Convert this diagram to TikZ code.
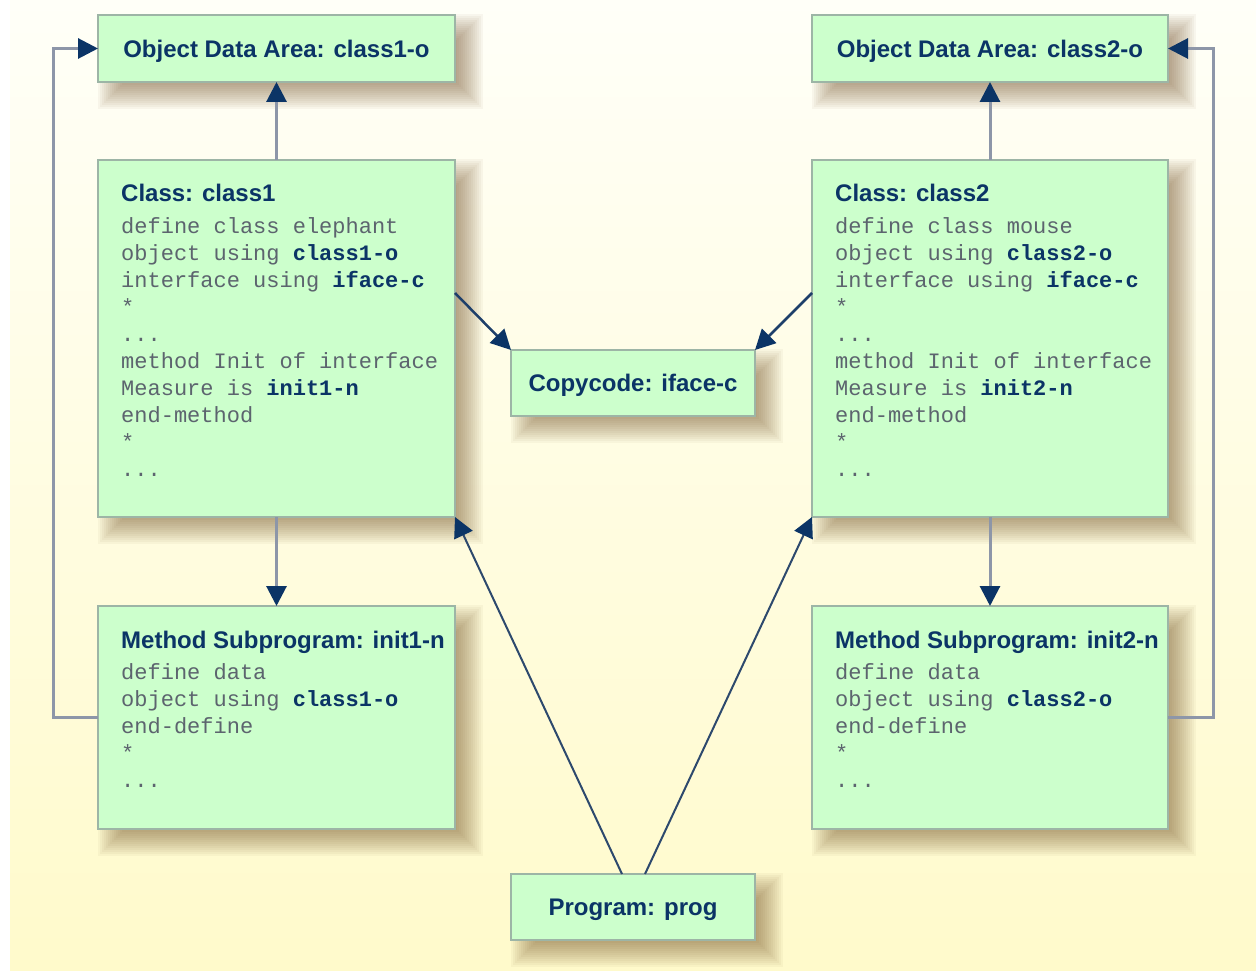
\documentclass[tikz,border=0pt]{standalone}
\usepackage{fontspec}
\setmainfont{Liberation Sans}
\newfontfamily\monof{Liberation Mono}
\usetikzlibrary{arrows.meta,calc}
\definecolor{navy}{HTML}{0B3466}
\definecolor{boxfill}{HTML}{CCFFCC}
\definecolor{boxline}{HTML}{9DB5A6}
\definecolor{conngrey}{HTML}{8D96A8}
\definecolor{codegrey}{HTML}{5C646E}
\definecolor{bgtop}{HTML}{FFFFF8}
\definecolor{bgbot}{HTML}{FFFACB}
\definecolor{diagline}{HTML}{1E3F6A}
\definecolor{shadowcol}{HTML}{6B4418}
\pgfdeclarelayer{bgfill}
\pgfdeclarelayer{shad}
\pgfsetlayers{bgfill,shad,main}
\newcommand{\softshadow}[1]{%
  \begin{pgfonlayer}{shad}
  \foreach \i in {0,...,14}{%
    \fill[shadowcol, opacity=0.042]
      ($(#1.north west)+(14-14+2*\i,13-14+2*\i)$) rectangle
      ($(#1.south east)+(14+14-2*\i,13+14-2*\i)$);
  }
  \end{pgfonlayer}}
\begin{document}
\begin{tikzpicture}[x=1pt,y=-1pt,
  box/.style={draw=boxline, line width=1.2pt, fill=boxfill, inner sep=0pt, outer sep=0pt},
  title/.style={text=navy, font=\bfseries\fontsize{24}{28}\selectfont},
  boxtitle/.style={title, text height=17.2pt, text depth=0pt},
  code/.style={text=codegrey, font=\monof\fontsize{22}{27}\selectfont, align=left, inner sep=0pt, anchor=north west},
  conn/.style={draw=conngrey, line width=3pt},
  tip/.style={-{Triangle[length=20pt,width=20pt,color=navy]}},
  diag/.style={draw=diagline, line width=2.5pt},
  diagthin/.style={draw=diagline!85!gray, line width=2pt},
]
\def\bw#1{{\color{navy}\bfseries #1}}
\useasboundingbox (0,0) rectangle (1256,976);
\begin{pgfonlayer}{bgfill}
\fill[white] (0,0) rectangle (1256,976);
\fill[top color=bgtop, bottom color=bgbot] (10,0) rectangle (1256,970);
\end{pgfonlayer}

% boxes
\node[box, boxtitle, minimum width=357pt, minimum height=67pt] (o1) at (276.5,48.5) {Object Data Area: class1-o};
\node[box, boxtitle, minimum width=356pt, minimum height=67pt] (o2) at (990,48.5) {Object Data Area: class2-o};
\node[box, minimum width=357pt, minimum height=357pt] (c1) at (276.5,338.5) {};
\node[box, minimum width=356pt, minimum height=357pt] (c2) at (990,338.5) {};
\node[box, boxtitle, minimum width=244pt, minimum height=66pt] (cc) at (633,383) {Copycode: iface-c};
\node[box, minimum width=357pt, minimum height=223pt] (m1) at (276.5,717.5) {};
\node[box, minimum width=356pt, minimum height=223pt] (m2) at (990,717.5) {};
\node[box, boxtitle, minimum width=244pt, minimum height=66pt] (p) at (633,907) {Program: prog};

\softshadow{o1}\softshadow{o2}\softshadow{c1}\softshadow{c2}
\softshadow{cc}\softshadow{m1}\softshadow{m2}\softshadow{p}

% texts in class boxes
\node[title, anchor=base west, inner sep=0pt] (c1h) at (121,201.5) {Class: class1};
\node[code] (c1t) at (121,214) {\strut define class elephant\\object using \bw{class1-o}\\interface using \bw{iface-c}\\*\\...\\method Init of interface\\Measure is \bw{init1-n}\\end-method\\*\\...};
\node[title, anchor=base west, inner sep=0pt] (c2h) at (835,201.5) {Class: class2};
\node[code] (c2t) at (835,214) {\strut define class mouse\\object using \bw{class2-o}\\interface using \bw{iface-c}\\*\\...\\method Init of interface\\Measure is \bw{init2-n}\\end-method\\*\\...};

% texts in method boxes
\node[title, anchor=base west, inner sep=0pt] (m1h) at (121,648) {Method Subprogram: init1-n};
\node[code] (m1t) at (121,660.3) {\strut define data\\object using \bw{class1-o}\\end-define\\*\\...};
\node[title, anchor=base west, inner sep=0pt] (m2h) at (835,648) {Method Subprogram: init2-n};
\node[code] (m2t) at (835,660.3) {\strut define data\\object using \bw{class2-o}\\end-define\\*\\...};

% connectors
\draw[conn, tip] (c1.north) -- (o1.south);
\draw[conn, tip] (c2.north) -- (o2.south);
\draw[conn, tip] (c1.south) -- (m1.north);
\draw[conn, tip] (c2.south) -- (m2.north);
\draw[conn, tip] (m1.west) -- ++(-45,0) |- (o1.west);
\draw[conn, tip] (m2.east) -- ++(45,0) |- (o2.east);

\draw[diag, tip] ($(c1.north east)+(0,133)$) -- (cc.north west);
\draw[diag, tip] ($(c2.north west)+(0,133)$) -- (cc.north east);
\draw[diagthin, tip] ($(p.north)+(-11,0)$) -- (c1.south east);
\draw[diagthin, tip] ($(p.north)+(12,0)$) -- (c2.south west);
\end{tikzpicture}
\end{document}
